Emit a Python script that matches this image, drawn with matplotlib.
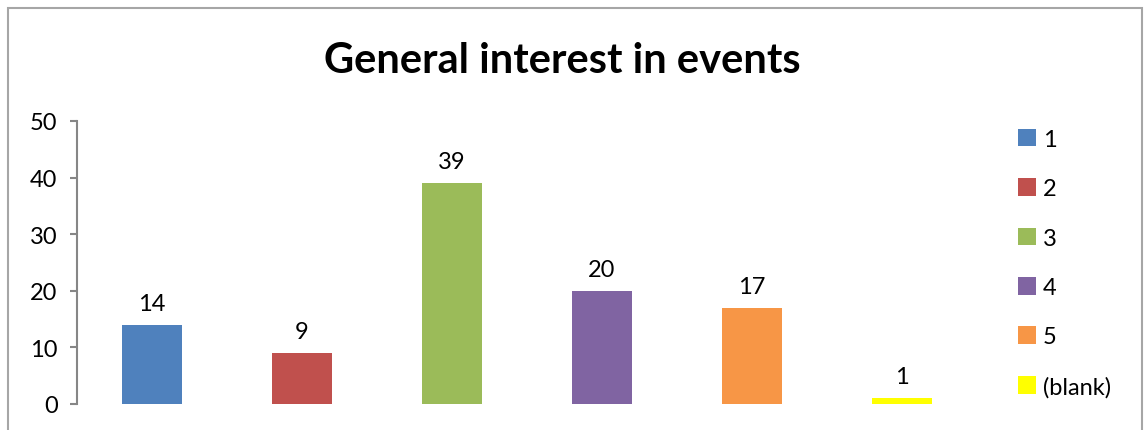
import matplotlib
matplotlib.use("Agg")
import matplotlib.pyplot as plt
from matplotlib.patches import Rectangle

plt.rcParams['font.family'] = ['Lato', 'DejaVu Sans']

# interest ratings and how many answered each
ratings = ['1', '2', '3', '4', '5', '(blank)']
counts = [14, 9, 39, 20, 17, 1]
colors = ['#4F81BD', '#C0504D', '#9BBB59', '#8064A2', '#F79646', '#FFFF00']
yticks = [0, 10, 20, 30, 40, 50]

W, H = 1144, 431
fig = plt.figure(figsize=(W / 100, H / 100), dpi=100)
ax = fig.add_axes([77 / W, 1 - 405 / H, 900 / W, 283 / H])

for i, (r, c, col) in enumerate(zip(ratings, counts, colors)):
    b = ax.bar(i, c, width=0.4, color=col, label=r)
    ax.bar_label(b, padding=8, fontsize=17, color='#000000')

ax.set_xlim(-0.5, len(ratings) - 0.5)
ax.set_ylim(0, 50)
ax.set_yticks(yticks)
ax.set_xticks([])
for s in ['top', 'right', 'bottom']:
    ax.spines[s].set_visible(False)
ax.spines['left'].set_color('#868686')
ax.spines['left'].set_linewidth(1.5)
ax.tick_params(axis='y', direction='out', length=5, width=1.5, color='#868686',
               labelsize=17, pad=9)

fig.text(562 / W, 1 - 73 / H, 'General interest in events', ha='center',
         va='baseline', fontsize=30, fontweight='bold')

fig.legend(loc='center left', bbox_to_anchor=(1018 / W, 1 - 264 / H),
           frameon=False, fontsize=17, handlelength=0.78, handleheight=0.78,
           handletextpad=0.28, labelspacing=1.2, borderpad=0, borderaxespad=0)

# chart frame, its bottom edge runs off the image
fig.patches.append(Rectangle((8 / W, -0.1), 1134 / W, 1.1 - 9 / H,
                             transform=fig.transFigure, fill=False,
                             edgecolor='#A6A6A6', linewidth=1.5))

fig.savefig('out.png', dpi=100)
